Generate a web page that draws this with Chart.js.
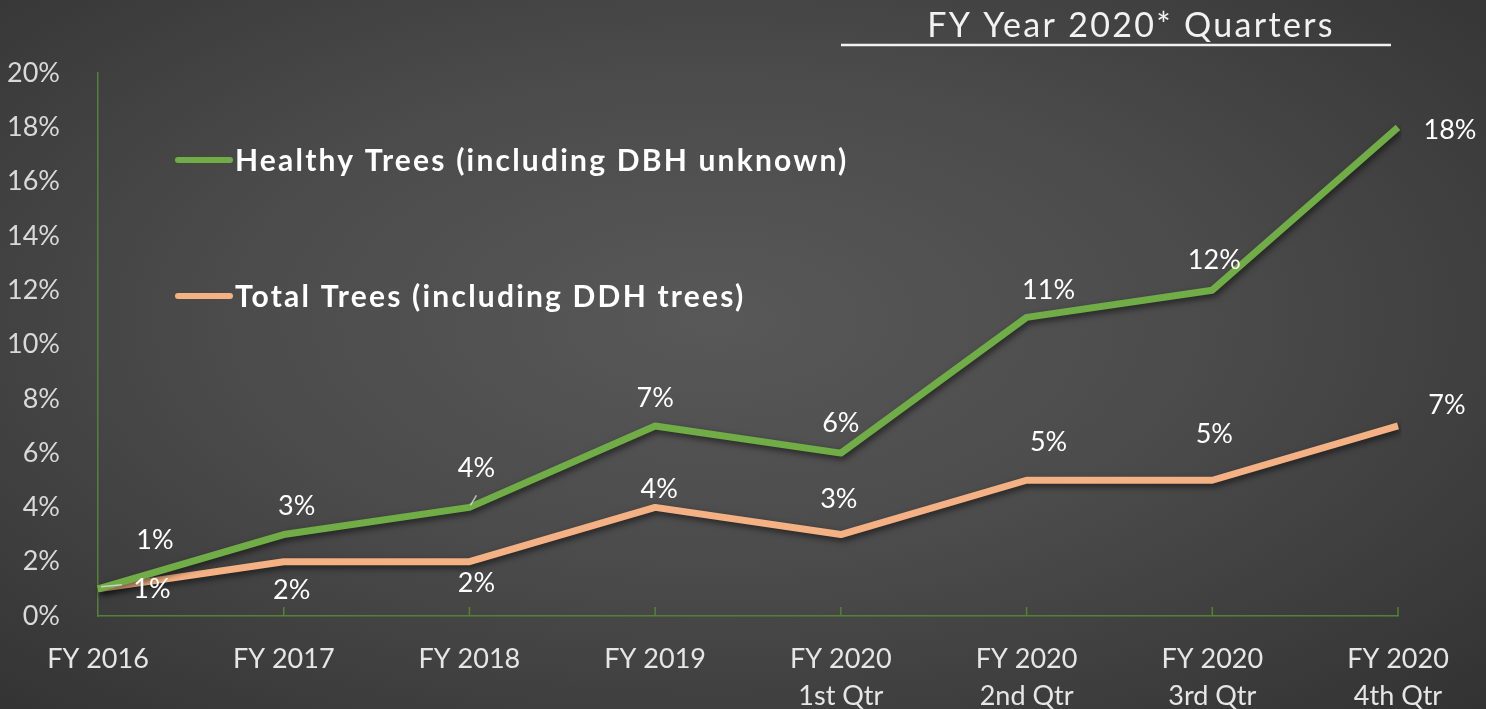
<!DOCTYPE html>
<html>
<head>
<meta charset="utf-8">
<script src="https://cdn.jsdelivr.net/npm/chart.js@4.4.0/dist/chart.umd.min.js"></script>
<style>
    html, body {
        margin: 0;
        padding: 0;
        width: 1486px;
        height: 709px;
        overflow: hidden;
        background: radial-gradient(ellipse at 48% 45%, #585858 0%, #4b4b4b 45%, #323232 100%);
    }
    #wrap {
        position: relative;
        width: 1486px;
        height: 709px;
    }
</style>
</head>
<body>
<div id="wrap"><canvas id="trees"></canvas></div>
<script>
// Chart data
const categories = [
    'FY 2016', 'FY 2017', 'FY 2018', 'FY 2019',
    ['FY 2020', '1st Qtr'], ['FY 2020', '2nd Qtr'], ['FY 2020', '3rd Qtr'], ['FY 2020', '4th Qtr']
];
const healthyTrees = [1, 3, 4, 7, 6, 11, 12, 18];
const totalTrees = [1, 2, 2, 4, 3, 5, 5, 7];
const yTicks = [0, 2, 4, 6, 8, 10, 12, 14, 16, 18, 20];
const seriesNames = ['Healthy Trees (including DBH unknown)', 'Total Trees (including DDH trees)'];
const titleText = 'FY Year 2020* Quarters';

const FONT = "'Lato', 'Open Sans', sans-serif";
const GREEN = '#70ad47';
const ORANGE = '#f4b183';
const AXIS = '#548235';

// Label offsets (px) relative to each point, per series
const labelOffsets = [
    [[57, -49], [13, -28], [7, -39], [0, -28], [0, -30], [22, -27], [2, -30], [52, 3]],
    [[54, 0], [8, 29], [7, 22], [4, -18], [-2, -35], [22, -38], [2, -46], [49, -21]]
];

// Shadow under the lines
const shadowPlugin = {
    id: 'lineShadow',
    beforeDatasetsDraw(chart) {
        const ctx = chart.ctx;
        ctx.save();
        ctx.shadowColor = 'rgba(0,0,0,0.55)';
        ctx.shadowBlur = 6;
        ctx.shadowOffsetX = 2;
        ctx.shadowOffsetY = 3;
    },
    afterDatasetsDraw(chart) {
        chart.ctx.restore();
    }
};

// Ticks inside the plot, value labels, legend and the quarter header
const decorPlugin = {
    id: 'decor',
    afterDatasetsDraw(chart) {
        const ctx = chart.ctx;
        const x = chart.scales.x;
        const area = chart.chartArea;

        ctx.save();
        ctx.strokeStyle = AXIS;
        ctx.lineWidth = 1.5;
        for (let i = 1; i < categories.length; i++) {
            const px = x.getPixelForValue(i);
            ctx.beginPath();
            ctx.moveTo(px, area.bottom);
            ctx.lineTo(px, area.bottom - 9);
            ctx.stroke();
        }

        // small leader lines next to two labels
        const g2 = chart.getDatasetMeta(0).data[2];
        const o0 = chart.getDatasetMeta(1).data[0];
        ctx.strokeStyle = 'rgba(220,220,220,0.8)';
        ctx.lineWidth = 1.5;
        ctx.beginPath();
        ctx.moveTo(g2.x + 1, g2.y - 2);
        ctx.lineTo(g2.x + 7, g2.y - 12);
        ctx.moveTo(o0.x + 3, o0.y - 2);
        ctx.lineTo(o0.x + 24, o0.y - 4);
        ctx.stroke();

        // value labels
        ctx.fillStyle = '#ffffff';
        ctx.font = '27px ' + FONT;
        ctx.textAlign = 'center';
        ctx.textBaseline = 'middle';
        chart.data.datasets.forEach((ds, di) => {
            const meta = chart.getDatasetMeta(di);
            meta.data.forEach((pt, i) => {
                const off = labelOffsets[di][i];
                ctx.fillText(ds.data[i] + '%', pt.x + off[0], pt.y + off[1]);
            });
        });

        // legend
        const legendRows = [[GREEN, 160], [ORANGE, 296]];
        ctx.textAlign = 'left';
        ctx.font = 'bold 30px ' + FONT;
        ctx.letterSpacing = '2.2px';
        legendRows.forEach((row, i) => {
            ctx.strokeStyle = row[0];
            ctx.lineWidth = 6;
            ctx.lineCap = 'round';
            ctx.beginPath();
            ctx.moveTo(178, row[1]);
            ctx.lineTo(230, row[1]);
            ctx.stroke();
            ctx.fillStyle = '#ffffff';
            ctx.fillText(seriesNames[i], 235, row[1] + 1);
        });

        // quarter header
        ctx.fillStyle = '#f2f2f2';
        ctx.textAlign = 'center';
        ctx.font = '34px ' + FONT;
        ctx.letterSpacing = '2.3px';
        ctx.fillText(titleText, 1131, 26);
        ctx.letterSpacing = '0px';
        ctx.strokeStyle = '#f2f2f2';
        ctx.lineWidth = 2.5;
        ctx.lineCap = 'butt';
        ctx.beginPath();
        ctx.moveTo(841, 45);
        ctx.lineTo(1391, 45);
        ctx.stroke();
        ctx.restore();
    }
};

const canvas = document.getElementById('trees');
new Chart(canvas.getContext('2d'), {
    type: 'line',
    data: {
        labels: categories,
        datasets: [
            {
                label: seriesNames[0],
                data: healthyTrees,
                borderColor: GREEN,
                borderWidth: 7,
                borderJoinStyle: 'round',
                pointRadius: 0,
                tension: 0
            },
            {
                label: seriesNames[1],
                data: totalTrees,
                borderColor: ORANGE,
                borderWidth: 7,
                borderJoinStyle: 'round',
                pointRadius: 0,
                tension: 0
            }
        ]
    },
    options: {
        responsive: true,
        maintainAspectRatio: false,
        animation: false,
        layout: {
            padding: { top: 73, right: 88, left: 0, bottom: 0 }
        },
        plugins: {
            legend: { display: false },
            tooltip: { enabled: false },
            title: { display: false }
        },
        scales: {
            x: {
                offset: false,
                grid: { display: false },
                border: { display: true, color: AXIS, width: 1.5 },
                ticks: {
                    color: '#e6e6e6',
                    font: { family: FONT, size: 27, lineHeight: 1.4 },
                    padding: 16,
                    maxRotation: 0,
                    autoSkip: false
                },
                afterFit(scale) { scale.height = 93; }
            },
            y: {
                min: 0,
                max: 20,
                grid: { display: false },
                border: { display: true, color: AXIS, width: 1.5 },
                afterBuildTicks(scale) {
                    scale.ticks = yTicks.map(v => ({ value: v }));
                },
                ticks: {
                    color: '#d9d9d9',
                    font: { family: FONT, size: 27 },
                    padding: 30,
                    callback: v => v + '%'
                },
                afterFit(scale) { scale.width = 98; }
            }
        }
    },
    plugins: [shadowPlugin, decorPlugin]
});
</script>
</body>
</html>
